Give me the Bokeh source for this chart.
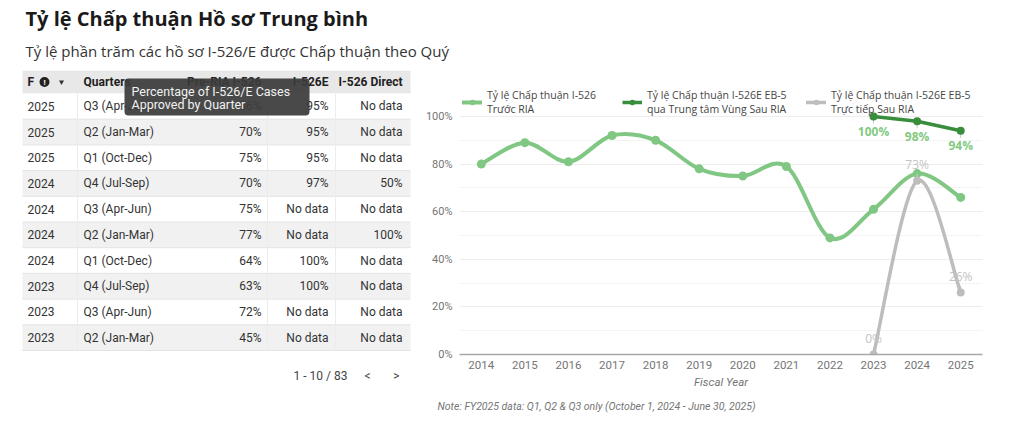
import numpy as np
from bokeh.plotting import figure
from bokeh.models import (Range1d, FixedTicker, PrintfTickFormatter, Legend, LegendItem,
                          LinearAxis, Title)
from bokeh.layouts import column, row
from bokeh.embed import file_html
from bokeh.resources import INLINE
from bokeh.core.properties import value

# ---------------- data ----------------
TITLE = "Tỷ lệ Chấp thuận Hồ sơ Trung bình"
SUBTITLE = "Tỷ lệ phần trăm các hồ sơ I-526/E được Chấp thuận theo Quý"

table_headers = ["F", "Quarters", "Pre-RIA I-526", "I-526E", "I-526 Direct"]
fiscal_years = ["2025", "2025", "2025", "2024", "2024", "2024", "2024", "2023", "2023", "2023"]
quarters = ["Q3 (Apr-Jun)", "Q2 (Jan-Mar)", "Q1 (Oct-Dec)", "Q4 (Jul-Sep)", "Q3 (Apr-Jun)",
            "Q2 (Jan-Mar)", "Q1 (Oct-Dec)", "Q4 (Jul-Sep)", "Q3 (Apr-Jun)", "Q2 (Jan-Mar)"]
pre_ria_q = ["56%", "70%", "75%", "70%", "75%", "77%", "64%", "63%", "72%", "45%"]
i526e_q = ["95%", "95%", "95%", "97%", "No data", "No data", "100%", "100%", "No data", "No data"]
direct_q = ["No data", "No data", "No data", "50%", "No data", "100%", "No data", "No data", "No data", "No data"]
tooltip_lines = ["Percentage of I-526/E Cases", "Approved by Quarter"]
pagination_labels = ["1 - 10 / 83", "<", ">"]

years = [2014, 2015, 2016, 2017, 2018, 2019, 2020, 2021, 2022, 2023, 2024, 2025]
pre_ria = [80, 89, 81, 92, 90, 78, 75, 79, 49, 61, 76, 66]
rc_years = [2023, 2024, 2025]
rc_post = [100, 98, 94]
direct_years = [2023, 2024, 2025]
direct_post = [0, 73, 26]

legend_labels = ["Tỷ lệ Chấp thuận I-526\nTrước RIA",
                 "Tỷ lệ Chấp thuận I-526E EB-5\nqua Trung tâm Vùng Sau RIA",
                 "Tỷ lệ Chấp thuận I-526E EB-5\nTrực tiếp Sau RIA"]
x_title = "Fiscal Year"
NOTE = "Note: FY2025 data: Q1, Q2 & Q3 only (October 1, 2024 - June 30, 2025)"

LIGHT_GREEN = "#81c784"
DARK_GREEN = "#388e3c"
DARK_GREEN_LABEL = "#6abf69"
GREY = "#bdbdbd"
GREY_LABEL = "#c4c4c4"
SANS = "Open Sans"
COND = "Roboto"


def bare(fig):
    fig.outline_line_color = None
    fig.background_fill_color = "white"
    fig.border_fill_color = "white"
    return fig


# ---------------- title strip (coordinates = page pixels) ----------------
top = bare(figure(width=1016, height=70, x_range=Range1d(0, 982), y_range=Range1d(70, 0),
                  x_axis_type=None, y_axis_type=None, toolbar_location=None,
                  output_backend="svg", min_border=0, min_border_right=34))
top.text(x=[25], y=[18], text=[TITLE], text_font=value(SANS), text_font_size="20px",
         text_font_style="bold", text_color="#1a1a1a", text_baseline="middle")
top.text(x=[25], y=[50], text=[SUBTITLE], text_font=value(SANS), text_font_size="15px",
         text_color="#333333", text_baseline="middle")

# ---------------- table ----------------
TB_BOTTOM = 65
tbl = bare(figure(width=420, height=349, x_range=Range1d(0, 420), y_range=Range1d(354, 70),
                  x_axis_type=None, y_axis_type=None, toolbar_location=None,
                  output_backend="svg", min_border=0, min_border_bottom=TB_BOTTOM))
T_LEFT, T_RIGHT = 22, 410
H_TOP, H_BOT = 70, 93
ROW_H = 25.7
n = len(fiscal_years)
r_tops = [H_BOT + ROW_H * i for i in range(n)]
r_bots = [t + ROW_H for t in r_tops]
r_mid = [t + ROW_H / 2 for t in r_tops]
h_mid = (H_TOP + H_BOT) / 2

tbl.quad(left=[T_LEFT], right=[T_RIGHT], top=[H_TOP], bottom=[H_BOT], fill_color="#e8e8e8", line_color=None)
shade = ["#ffffff" if i % 2 == 0 else "#f1f1f1" for i in range(n)]
tbl.quad(left=T_LEFT, right=T_RIGHT, top=r_tops, bottom=r_bots, fill_color=shade, line_color=None)
tbl.segment(x0=T_LEFT, x1=T_RIGHT, y0=r_bots, y1=r_bots, line_color="#e3e3e3", line_width=1)
sep_x = [77, 267, 335]
tbl.segment(x0=sep_x, x1=sep_x, y0=H_BOT, y1=r_bots[-1], line_color="#ececec", line_width=1)

col_x = [27, 83, 261, 328, 402]
col_align = ["left", "left", "right", "right", "right"]
tbl.text(x=col_x, y=[h_mid] * 5, text=table_headers, text_align=col_align,
         text_baseline="middle", text_font=value(COND), text_font_size="12px",
         text_font_style="bold", text_color="#222222")
# info icon and sort arrow next to "F"
tbl.scatter(x=[44], y=[h_mid], marker="circle", size=10, fill_color="#222222", line_color=None)
tbl.text(x=[44], y=[h_mid + 0.5], text=["!"], text_align="center", text_baseline="middle",
         text_font=value("Roboto"), text_font_size="8px", text_font_style="bold", text_color="white")
tbl.scatter(x=[61], y=[h_mid], marker="inverted_triangle", size=5, fill_color="#333333", line_color=None)

for cx, al, vals in zip(col_x, col_align, [fiscal_years, quarters, pre_ria_q, i526e_q, direct_q]):
    tbl.text(x=[cx] * n, y=r_mid, text=vals, text_align=al, text_baseline="middle",
             text_font=value(COND), text_font_size="12px", text_color="#333333")

# tooltip overlay
tbl.quad(left=[124], right=[309], top=[78], bottom=[115], fill_color="#3b3b3b", fill_alpha=0.93,
         line_color=None, border_radius=4)
tbl.text(x=[131, 131], y=[90.5, 104], text=tooltip_lines, text_baseline="middle",
         text_font=value("Roboto"), text_font_size="12.5px", text_color="#f2f2f2")

# pagination, rendered as an axis below the table
pag_axis = LinearAxis(ticker=FixedTicker(ticks=[320, 367, 396]),
                      major_label_overrides=dict(zip([320, 367, 396], pagination_labels)),
                      axis_line_color=None, major_tick_line_color=None, minor_tick_line_color=None,
                      major_tick_out=0, minor_tick_out=0, major_label_standoff=14,
                      major_label_text_font=COND, major_label_text_font_size="12px",
                      major_label_text_color="#444444")
tbl.add_layout(pag_axis, "below")

# ---------------- chart ----------------
CH_W, CH_H = 596, 349
B_LEFT, B_RIGHT, B_TOP, B_BOT = 39, 34, 0, 65
X0, X1 = 2013.5, 2025.5
PX_PER_Y = 2.38
Y1 = (CH_H - B_TOP - B_BOT) / PX_PER_Y
ch = bare(figure(width=CH_W, height=CH_H, x_range=Range1d(X0, X1), y_range=Range1d(0, Y1),
                 toolbar_location=None, output_backend="svg",
                 min_border_left=B_LEFT, min_border_right=B_RIGHT,
                 min_border_top=B_TOP, min_border_bottom=B_BOT))

ch.yaxis.ticker = FixedTicker(ticks=[0, 20, 40, 60, 80, 100], minor_ticks=[10, 30, 50, 70, 90])
ch.yaxis.formatter = PrintfTickFormatter(format="%d%%")
ch.yaxis.axis_line_color = None
ch.yaxis.major_tick_line_color = None
ch.yaxis.minor_tick_line_color = None
ch.yaxis.major_tick_out = 0
ch.yaxis.minor_tick_out = 0
ch.yaxis.major_label_standoff = 7
ch.yaxis.major_label_text_font = COND
ch.yaxis.major_label_text_font_size = "11px"
ch.yaxis.major_label_text_color = "#757575"

ch.xaxis.ticker = FixedTicker(ticks=years)
ch.xaxis.formatter = PrintfTickFormatter(format="%d")
ch.xaxis.axis_line_color = "#a8a8a8"
ch.xaxis.axis_line_width = 1.5
ch.xaxis.major_tick_line_color = None
ch.xaxis.minor_tick_line_color = None
ch.xaxis.major_tick_out = 0
ch.xaxis.minor_tick_out = 0
ch.xaxis.major_label_standoff = 6
ch.xaxis.major_label_text_font = COND
ch.xaxis.major_label_text_font_size = "11.5px"
ch.xaxis.major_label_text_color = "#757575"
ch.xaxis.axis_label = x_title
ch.xaxis.axis_label_standoff = 3
ch.xaxis.axis_label_text_font = COND
ch.xaxis.axis_label_text_font_size = "11.5px"
ch.xaxis.axis_label_text_font_style = "italic"
ch.xaxis.axis_label_text_color = "#757575"

ch.xgrid.visible = False
ch.ygrid.grid_line_color = "#ededed"
ch.ygrid.minor_grid_line_color = "#f4f4f4"


def catmull_rom(xs, ys):
    """Bezier control points of a Catmull-Rom curve through the given points."""
    xs = np.asarray(xs, float)
    ys = np.asarray(ys, float)
    m = len(xs)
    xp = np.concatenate([[xs[0]], xs, [xs[-1]]])
    yp = np.concatenate([[ys[0]], ys, [ys[-1]]])
    cx0 = xp[1:m] + (xp[2:m + 1] - xp[0:m - 1]) / 6
    cy0 = yp[1:m] + (yp[2:m + 1] - yp[0:m - 1]) / 6
    cx1 = xp[2:m + 1] - (xp[3:m + 2] - xp[1:m]) / 6
    cy1 = yp[2:m + 1] - (yp[3:m + 2] - yp[1:m]) / 6
    return dict(x0=xs[:-1], y0=ys[:-1], x1=xs[1:], y1=ys[1:], cx0=cx0, cy0=cy0, cx1=cx1, cy1=cy1)


# light green, smoothed
pr_line = ch.bezier(**catmull_rom(years, pre_ria), line_color=LIGHT_GREEN, line_width=4, line_cap="round")
pr_pts = ch.scatter(years, pre_ria, marker="circle", size=9, fill_color=LIGHT_GREEN, line_color=None)

# grey, smoothed
ch.segment(x0=direct_years, y0=direct_post, x1=direct_years, y1=[v + 3 for v in direct_post],
           line_color="#d0d0d0", line_width=1)
d_line = ch.bezier(**catmull_rom(direct_years, direct_post), line_color=GREY, line_width=3.5, line_cap="round")
d_pts = ch.scatter(direct_years, direct_post, marker="circle", size=8, fill_color=GREY, line_color=None)
ch.text(x=direct_years, y=direct_post, text=[f"{v}%" for v in direct_post], y_offset=-16,
        text_align="center", text_baseline="middle", text_font=value(SANS),
        text_font_size="12px", text_color=GREY_LABEL)

# dark green, straight
ch.segment(x0=rc_years, y0=rc_post, x1=rc_years, y1=[v - 3 for v in rc_post],
           line_color="#c8c8c8", line_width=1)
rc_line = ch.line(rc_years, rc_post, line_color=DARK_GREEN, line_width=3.5)
rc_pts = ch.scatter(rc_years, rc_post, marker="circle", size=8, fill_color=DARK_GREEN, line_color=None)
ch.text(x=rc_years, y=rc_post, text=[f"{v}%" for v in rc_post], y_offset=15,
        text_align="center", text_baseline="middle", text_font=value(SANS),
        text_font_size="12px", text_font_style="bold", text_color=DARK_GREEN_LABEL, text_alpha=0.85)

# legends (one per series, placed like the reference)
legend_x = [3, 163, 347]
for lab, rends, lx in zip(legend_labels, [[pr_line, pr_pts], [rc_line, rc_pts], [d_line, d_pts]], legend_x):
    lg = Legend(items=[LegendItem(label=lab, renderers=rends)], location=(lx, 238),
                orientation="vertical", padding=0, margin=0, spacing=0,
                border_line_color=None, background_fill_alpha=0,
                glyph_width=20, glyph_height=14, label_standoff=5, label_height=14,
                label_text_font=SANS, label_text_font_size="10.5px",
                label_text_color="#444444")
    ch.add_layout(lg)

# note below the axis title
ch.add_layout(Title(text=NOTE, align="left", offset=-22, standoff=13, text_font=COND,
                    text_font_size="10.5px", text_font_style="italic", text_color="#757575"), "below")

layout = column(top, row(tbl, ch))
open("out.html", "w").write(file_html(layout, INLINE))
